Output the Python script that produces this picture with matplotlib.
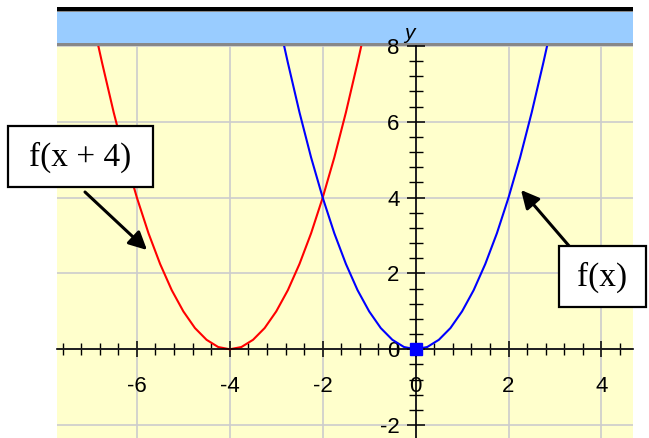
"""
Redraw of the f(x) / f(x + 4) parabola picture.

Writes out.png (649 x 438 px).
"""
import matplotlib
matplotlib.use("Agg")
import matplotlib.pyplot as plt
import matplotlib.ticker as mtick
from matplotlib.patches import Rectangle

# f(x) = x^2 (clipped at y = 8)
fx_x = [-2.83, -2.75, -2.5, -2.25, -2.0, -1.75, -1.5, -1.25, -1.0, -0.75,
        -0.5, -0.25, 0.0, 0.25, 0.5, 0.75, 1.0, 1.25, 1.5, 1.75, 2.0,
        2.25, 2.5, 2.75, 2.83]
fx_y = [8.0, 7.56, 6.25, 5.06, 4.0, 3.06, 2.25, 1.56, 1.0, 0.56,
        0.25, 0.06, 0.0, 0.06, 0.25, 0.56, 1.0, 1.56, 2.25, 3.06, 4.0,
        5.06, 6.25, 7.56, 8.0]

# f(x + 4), the red curve: same shape, vertex at x = -4
shift_x = [-6.83, -6.75, -6.5, -6.25, -6.0, -5.75, -5.5, -5.25, -5.0, -4.75,
           -4.5, -4.25, -4.0, -3.75, -3.5, -3.25, -3.0, -2.75, -2.5, -2.25,
           -2.0, -1.75, -1.5, -1.25, -1.17]
shift_y = [8.0, 7.56, 6.25, 5.06, 4.0, 3.06, 2.25, 1.56, 1.0, 0.56,
           0.25, 0.06, 0.0, 0.06, 0.25, 0.56, 1.0, 1.56, 2.25, 3.06,
           4.0, 5.06, 6.25, 7.56, 8.0]

vertex = (0.0, 0.0)
x_major = [-6, -4, -2, 0, 2, 4]
y_major = [-2, 0, 2, 4, 6, 8]
label_shift = "f(x + 4)"
label_f = "f(x)"

W, H = 649, 438  # output size in pixels
TICK_FS = 16

plt.rcParams.update({
    "font.family": "Liberation Sans",
    "font.size": TICK_FS,
    "xtick.labelsize": TICK_FS,
    "ytick.labelsize": TICK_FS,
    "axes.unicode_minus": False,
})


def fig_rect(fig, x0, y0, x1, y1, **kw):
    """Rectangle given in image pixels (y down)."""
    r = Rectangle((x0 / W, 1 - y1 / H), (x1 - x0) / W, (y1 - y0) / H,
                  transform=fig.transFigure, **kw)
    fig.add_artist(r)
    return r


def main():
    fig = plt.figure(figsize=(W / 100, H / 100), dpi=100)
    fig.patch.set_facecolor("white")

    # title band above the plot area, drawn under the axes texts
    fig_rect(fig, 57, 11, 633, 45, facecolor="#99CCFF", edgecolor="none",
             zorder=-5)
    fig_rect(fig, 57, 7, 633, 11, facecolor="black", edgecolor="none",
             zorder=-5)
    fig_rect(fig, 57, 11, 633, 12, facecolor="#888888", edgecolor="none",
             zorder=-5)
    fig_rect(fig, 57, 43, 633, 46, facecolor="#888888", edgecolor="none",
             zorder=-4)

    ax = fig.add_axes([57 / W, 0, (633 - 57) / W, (438 - 46) / H])
    ax.set_facecolor("#FFFFCC")
    ax.set_xlim(-7.72, 4.68)
    ax.set_ylim(-2.34, 8.0)

    # axes through the origin
    for side in ("top", "right"):
        ax.spines[side].set_visible(False)
    for side in ("left", "bottom"):
        ax.spines[side].set_position(("data", 0))
        ax.spines[side].set_linewidth(1.2)
        ax.spines[side].set_zorder(3)

    ax.set_xticks(x_major)
    ax.set_yticks(y_major)
    ax.xaxis.set_minor_locator(mtick.MultipleLocator(0.4))
    ax.yaxis.set_minor_locator(mtick.MultipleLocator(0.4))
    ax.tick_params(axis="x", which="major", direction="inout", length=11,
                   width=1.1, pad=14, labelsize=TICK_FS)
    ax.tick_params(axis="x", which="minor", direction="inout", length=8,
                   width=1.0)
    ax.tick_params(axis="y", which="major", direction="inout", length=13,
                   width=1.1, pad=5, labelsize=TICK_FS)
    ax.tick_params(axis="y", which="minor", direction="inout", length=9.5,
                   width=1.0)
    ax.grid(which="major", color="#CCCCCC", linewidth=1.2, zorder=0)
    ax.set_axisbelow(True)

    ax.plot(shift_x, shift_y, color="#FF0000", lw=1.5, zorder=2)
    ax.plot(fx_x, fx_y, color="#0000FF", lw=1.5, zorder=2)
    ax.plot(*vertex, marker="s", ms=8.5, color="#0000FF", zorder=4,
            clip_on=False)

    ax.text(-0.02, 8.34, "y", style="italic", ha="right", va="center",
            fontsize=15, clip_on=False)

    # callout boxes
    fig_rect(fig, 8, 126, 153, 187, facecolor="white", edgecolor="black",
             lw=1.6, zorder=5)
    fig.text(80.5 / W, 1 - 157 / H, label_shift, ha="center", va="center",
             family="Liberation Serif", fontsize=24, zorder=6)
    fig_rect(fig, 559, 246, 646, 307, facecolor="white", edgecolor="black",
             lw=1.6, zorder=5)
    fig.text(602.5 / W, 1 - 277 / H, label_f, ha="center", va="center",
             family="Liberation Serif", fontsize=24, zorder=6)

    arrow = dict(arrowstyle="-|>,head_length=0.6,head_width=0.3",
                 mutation_scale=18, color="black", lw=2.2,
                 shrinkA=0, shrinkB=0)
    ax.annotate("", xy=(147, H - 250), xycoords="figure pixels",
                xytext=(85, H - 192), textcoords="figure pixels",
                arrowprops=arrow, annotation_clip=False)
    ax.annotate("", xy=(521, H - 190), xycoords="figure pixels",
                xytext=(576, H - 254), textcoords="figure pixels",
                arrowprops=arrow, annotation_clip=False)

    fig.savefig("out.png", dpi=100)
    plt.close(fig)


if __name__ == "__main__":
    main()
